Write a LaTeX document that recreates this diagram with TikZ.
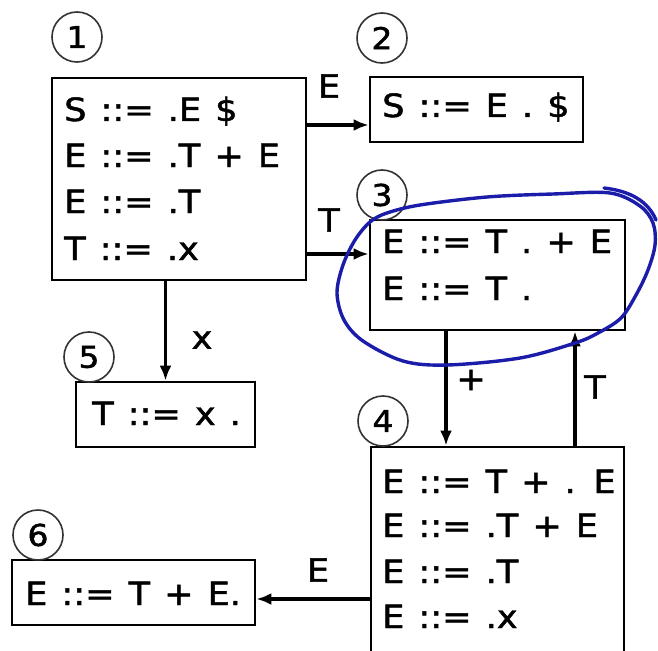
\documentclass[tikz,border=0pt]{standalone}
\usepackage{fontspec}
\setmainfont{DejaVu Sans}[FakeStretch=1.1,WordSpace=1.25,FakeBold=1.5]
\usetikzlibrary{arrows.meta}
\definecolor{penblue}{RGB}{28,28,170}
\begin{document}
\begin{tikzpicture}[x=1pt,y=-1pt,
  box/.style={draw, line width=2.8pt, inner sep=0pt},
  txt/.style={anchor=base west, inner sep=0pt, font=\fontsize{32}{38}\selectfont},
  lbl/.style={inner sep=0pt, font=\fontsize{32}{38}\selectfont},
  num/.style={draw=black!80, line width=1.6pt, circle, minimum size=50pt, inner sep=0pt, font=\fontsize{30}{30}\selectfont},
  arr/.style={line width=3.2pt, -{Latex[length=15pt,width=12pt]}},
  hand/.style={draw=penblue, line width=3.4pt, line cap=round, line join=round}
]
\clip (0,0) rectangle (658,650);
\useasboundingbox (0,0) rectangle (658,650);

% boxes
\node[box, minimum width=254pt, minimum height=202pt] (b1) at (179,179) {};
\node[box, minimum width=213pt, minimum height=65pt]  (b2) at (476.5,109.5) {};
\node[box, minimum width=255pt, minimum height=110pt] (b3) at (497.5,275) {};
\node[box, minimum width=253pt, minimum height=213pt] (b4) at (497.5,553.5) {};
\node[box, minimum width=179pt, minimum height=65pt]  (b5) at (165.5,414.5) {};
\node[box, minimum width=243pt, minimum height=65pt]  (b6) at (133.5,592.5) {};

% texts
\node[txt] (t1a) at (64,121) {S ::= .E \$};
\node[txt] (t1b) at (64,167) {E ::= .T + E};
\node[txt] (t1c) at (64,213) {E ::= .T};
\node[txt] (t1d) at (64,260) {T ::= .x};
\node[txt] (t2a) at (382,117) {S ::= E . \$};
\node[txt] (t3a) at (382,253) {E ::= T . + E};
\node[txt] (t3b) at (382,300) {E ::= T .};
\node[txt] (t4a) at (382,493) {E ::= T + . E};
\node[txt] (t4b) at (382,537) {E ::= .T + E};
\node[txt] (t4c) at (382,583) {E ::= .T};
\node[txt] (t4d) at (382,628) {E ::= .x};
\node[txt] (t5a) at (92,425) {T ::= x .};
\node[txt] (t6a) at (25,605) {E ::= T + E.};

% state numbers
\node[num] (n1) at (77,37) {1};
\node[num] (n2) at (382,38) {2};
\node[num] (n3) at (382,195) {3};
\node[num] (n5) at (89,357) {5};
\node[num] (n4) at (383,421) {4};
\node[num] (n6) at (38,535) {6};

% connectors
\coordinate (e2) at ([yshift=-15.5pt]b2.west);
\draw[arr] (b1.east |- e2) -- (e2);
\coordinate (e3) at ([yshift=21pt]b3.west);
\draw[arr] (b1.east |- e3) -- (e3);
\draw[arr] (b1.south -| b5.north) -- (b5.north);
\coordinate (p3) at ([xshift=-51.5pt]b3.south);
\draw[arr] (p3) -- (p3 |- b4.north);
\coordinate (q3) at ([xshift=77.5pt]b3.south);
\draw[arr] (q3 |- b4.north) -- (q3);
\coordinate (e6) at ([yshift=-6.5pt]b6.east);
\draw[arr] (b4.west |- e6) -- (e6);

% labels
\node[lbl] (lE2) at (329,86) {E};
\node[lbl] (lT3) at (329,220) {T};
\node[lbl] (lx5) at (202,340) {x};
\node[lbl] (lp4) at (471,380) {+};
\node[lbl] (lT4) at (595,387) {T};
\node[lbl] (lE6) at (318,570) {E};

% hand-drawn blue loop round state 3
\draw[hand] plot[smooth cycle, tension=0.55] coordinates {(387,213) (420,205) (487,197) (553,194) (610,193) (640,206) (653,223) (655,245) (648,270) (636,295) (621,318) (598,333) (575,343) (520,358) (447,365) (403,361) (363,341) (344,320) (337,293) (343,265) (355,240) (370,222)};
\draw[hand] (604,188) .. controls (630,191) and (648,201) .. (656,220);
\end{tikzpicture}
\end{document}
